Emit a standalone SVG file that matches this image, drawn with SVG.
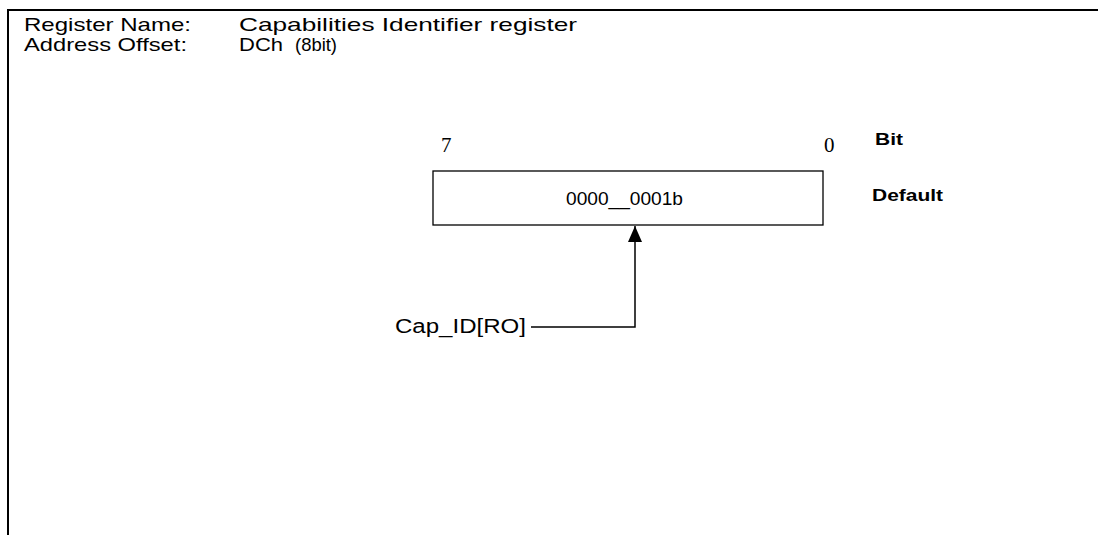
<svg xmlns="http://www.w3.org/2000/svg" width="1098" height="535" viewBox="0 0 1098 535">
<defs>
<marker id="ah" markerWidth="16" markerHeight="14" refX="16" refY="7" orient="auto" markerUnits="userSpaceOnUse" viewBox="0 0 16 14">
<path d="M0,0 L16,7 L0,14 Z" fill="#000"/>
</marker>
<style>
.s{font-family:"Liberation Sans",Arial,sans-serif;fill:#000}
.t{font-family:"Liberation Serif","Times New Roman",serif;fill:#000}
.b{font-family:"Liberation Sans",Arial,sans-serif;font-weight:bold;fill:#000}
</style>
</defs>
<rect width="1098" height="535" fill="#fff"/>
<g id="frame">
<path d="M8,535 V10 H1098" fill="none" stroke="#000" stroke-width="2"/>
</g>
<g id="header">
<text class="s" x="24" y="31" font-size="19" textLength="167" lengthAdjust="spacingAndGlyphs">Register Name:</text>
<text class="s" x="239" y="31" font-size="19" textLength="338" lengthAdjust="spacingAndGlyphs">Capabilities Identifier register</text>
<text class="s" x="24" y="51" font-size="19" textLength="163" lengthAdjust="spacingAndGlyphs">Address Offset:</text>
<text class="s" x="239" y="51" font-size="19" textLength="44" lengthAdjust="spacingAndGlyphs">DCh</text>
<text class="s" x="295" y="51" font-size="19" textLength="42" lengthAdjust="spacingAndGlyphs">(8bit)</text>
</g>
<g id="bits">
<text class="t" x="441" y="152" font-size="21">7</text>
<text class="t" x="824" y="152" font-size="21">0</text>
<text class="b" x="875" y="145" font-size="17" textLength="28" lengthAdjust="spacingAndGlyphs">Bit</text>
</g>
<g id="register">
<rect x="433" y="171" width="390" height="54" fill="#fff" stroke="#000" stroke-width="1.3"/>
<text class="s" x="566" y="205" font-size="18" textLength="117" lengthAdjust="spacingAndGlyphs">0000__0001b</text>
<text class="b" x="872" y="201" font-size="17" textLength="71" lengthAdjust="spacingAndGlyphs">Default</text>
</g>
<g id="field">
<text class="s" x="395" y="333" font-size="20" textLength="131" lengthAdjust="spacingAndGlyphs">Cap_ID[RO]</text>
</g>
<g id="connectors">
<path d="M531,327 H635 V226" fill="none" stroke="#000" stroke-width="1.5" marker-end="url(#ah)"/>
</g>
</svg>
